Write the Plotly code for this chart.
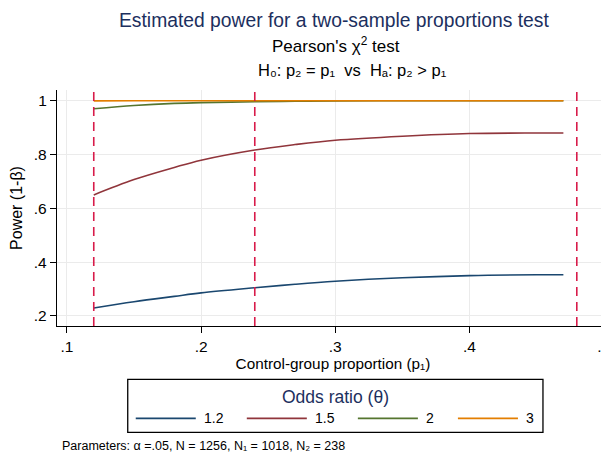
import plotly.graph_objects as go

# ---- data ----
p1 = [0.12, 0.15, 0.18, 0.20, 0.24, 0.27, 0.30, 0.35, 0.40, 0.45, 0.47]
power_or_12 = [0.230, 0.253, 0.273, 0.286, 0.305, 0.318, 0.329, 0.342, 0.350, 0.353, 0.353]
power_or_15 = [0.650, 0.707, 0.752, 0.779, 0.817, 0.837, 0.853, 0.868, 0.878, 0.880, 0.880]
power_or_2 = [0.970, 0.982, 0.990, 0.993, 0.996, 0.998, 0.999, 1.000, 1.000, 1.000, 1.000]
power_or_3 = [0.9995, 1.000, 1.000, 1.000, 1.000, 1.000, 1.000, 1.000, 1.000, 1.000, 1.000]
series_labels = ["1.2", "1.5", "2", "3"]
series_colors = ["#1a476f", "#90353b", "#55752f", "#e37e00"]
ref_lines = [0.12, 0.24, 0.48]
x_ticks = [0.1, 0.2, 0.3, 0.4, 0.5]
x_ticktext = [".1", ".2", ".3", ".4", ".5"]
y_ticks = [0.2, 0.4, 0.6, 0.8, 1.0]
y_ticktext = [".2", ".4", ".6", ".8", "1"]
legend_title = "Odds ratio (θ)"

FONT = "Liberation Sans, Arial, sans-serif"
NAVY = "#1c2f5e"

fig = go.Figure()
for vals, lab, col in zip([power_or_12, power_or_15, power_or_2, power_or_3],
                          series_labels, series_colors):
    fig.add_trace(go.Scatter(x=p1, y=vals, mode="lines", name=lab, showlegend=False,
                             line=dict(color=col, width=1.6, shape="spline")))

for xv in ref_lines:
    fig.add_shape(type="line", xref="x", yref="paper", x0=xv, x1=xv, y0=0, y1=1,
                  line=dict(color="#d81b4a", width=1.6, dash="9px,6px"))

# page body has an 8px margin, so lay out in page coordinates minus 8
OFF = 8
W, H = 609, 453 - OFF
plot_left, plot_top, plot_bottom, plot_right = 57.3, 90, 325.7, 609  # page pixels
L = plot_left - OFF
T = plot_top - OFF
B = H - (plot_bottom - OFF)
R = W - (plot_right - OFF)
pw, ph = W - L - R, H - T - B

def px2paper(x, y):
    # x, y in page pixels
    return (x - OFF - L) / pw, (H - B - (y - OFF)) / ph

annos = []
def add_text(text, xpx, ypx, size, color="black", xanchor="center"):
    xp, yp = px2paper(xpx, ypx)
    annos.append(dict(text=text, x=xp, y=yp, xref="paper", yref="paper",
                      xanchor=xanchor, yanchor="middle", showarrow=False,
                      font=dict(size=size, color=color, family=FONT)))

add_text("Estimated power for a two-sample proportions test", 334, 21, 19.3, NAVY)
add_text("Pearson's χ<sup>2</sup> test", 336, 45, 17)
add_text("H₀: p₂ = p₁  vs  Hₐ: p₂ > p₁", 353, 70, 16.5)
add_text("Parameters: α =.05, N = 1256, N₁ = 1018, N₂ = 238", 60, 446, 12.5, xanchor="left")

# ---- legend box (drawn as shapes/annotations) ----
bx0, by0 = px2paper(128, 379)
bx1, by1 = px2paper(543, 432)
fig.add_shape(type="rect", xref="paper", yref="paper", x0=bx0, x1=bx1, y0=by1, y1=by0,
              line=dict(color="black", width=1.3), fillcolor="rgba(0,0,0,0)")
add_text(legend_title, 335.5, 397, 17.5, NAVY)
key_x = [136, 247, 358, 458]
key_y = 418
for kx, lab, col in zip(key_x, series_labels, series_colors):
    a0, yy = px2paper(kx, key_y)
    a1, _ = px2paper(kx + 60, key_y)
    fig.add_shape(type="line", xref="paper", yref="paper", x0=a0, x1=a1, y0=yy, y1=yy,
                  line=dict(color=col, width=1.6))
    add_text(lab, kx + 66, key_y, 14, xanchor="left")

fig.update_layout(
    width=W, height=H,
    margin=dict(l=L, r=R, t=T, b=B, autoexpand=False),
    plot_bgcolor="white", paper_bgcolor="white",
    font=dict(family=FONT, size=15, color="black"),
    annotations=annos,
    showlegend=False,
    xaxis=dict(
        range=[0.0926, 0.5040], tickvals=x_ticks, ticktext=x_ticktext,
        showgrid=True, gridcolor="#ebebeb", gridwidth=1,
        showline=True, linecolor="black", linewidth=1.3,
        ticks="outside", ticklen=6, tickcolor="black", zeroline=False,
        ticklabeloverflow="allow",
        title=dict(text="Control-group proportion (p₁)", font=dict(size=15.3), standoff=0),
        tickfont=dict(size=15.5),
    ),
    yaxis=dict(
        range=[0.1628, 1.0398], tickvals=y_ticks, ticktext=y_ticktext,
        showgrid=True, gridcolor="#ebebeb", gridwidth=1,
        showline=True, linecolor="black", linewidth=1.3,
        ticks="outside", ticklen=6, tickcolor="black", zeroline=False,
        title=dict(text="Power (1-β)", font=dict(size=16), standoff=8),
        tickfont=dict(size=15.5),
    ),
)

fig.write_html("out.html")
